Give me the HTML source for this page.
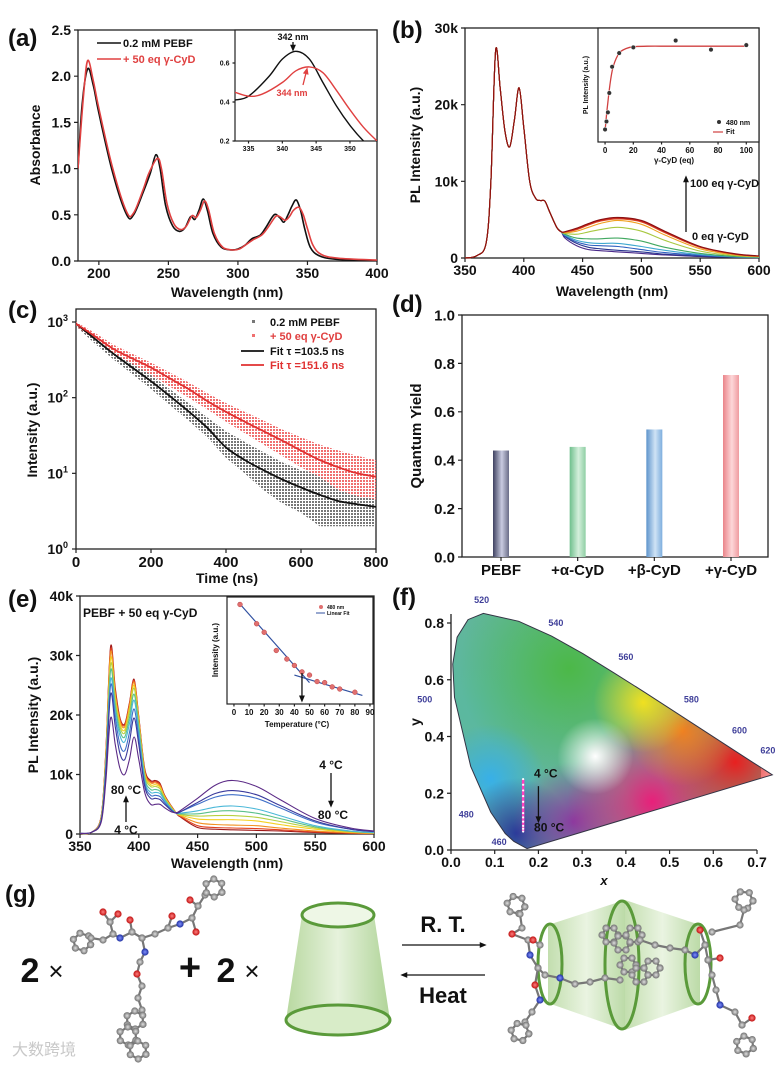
<!DOCTYPE html>
<html><head><meta charset="utf-8">
<style>
html,body{margin:0;padding:0;background:#fff;}
svg{display:block;font-family:"Liberation Sans","Noto Sans CJK SC",sans-serif;}
</style></head>
<body>
<svg id="fig" width="778" height="1066" viewBox="0 0 778 1066" xmlns="http://www.w3.org/2000/svg">
<defs>
<pattern id="dotsGray" width="3" height="3" patternUnits="userSpaceOnUse"><rect width="2" height="2" fill="#777"/></pattern>
<pattern id="dotsRed" width="3" height="3" patternUnits="userSpaceOnUse"><rect width="2" height="2" fill="#f07070"/></pattern>
<linearGradient id="gBar0" x1="0" x2="1"><stop offset="0" stop-color="#3e4160"/><stop offset="0.55" stop-color="#c9cbe0"/><stop offset="1" stop-color="#6a6d88"/></linearGradient>
<linearGradient id="gBar1" x1="0" x2="1"><stop offset="0" stop-color="#6fbf8c"/><stop offset="0.55" stop-color="#d4efdc"/><stop offset="1" stop-color="#8fcfa4"/></linearGradient>
<linearGradient id="gBar2" x1="0" x2="1"><stop offset="0" stop-color="#5e94cc"/><stop offset="0.55" stop-color="#cfe3f5"/><stop offset="1" stop-color="#7eaede"/></linearGradient>
<linearGradient id="gBar3" x1="0" x2="1"><stop offset="0" stop-color="#ea8489"/><stop offset="0.55" stop-color="#fdd7d9"/><stop offset="1" stop-color="#ef9ca0"/></linearGradient>
<radialGradient id="atom"><stop offset="0" stop-color="#e0e0e0"/><stop offset="1" stop-color="#707070"/></radialGradient>
<radialGradient id="atomR"><stop offset="0" stop-color="#ff8080"/><stop offset="1" stop-color="#c01010"/></radialGradient>
<radialGradient id="atomB"><stop offset="0" stop-color="#8090ff"/><stop offset="1" stop-color="#2030a0"/></radialGradient>
<linearGradient id="coneG" x1="0" x2="1"><stop offset="0" stop-color="#b8d8a0"/><stop offset="0.5" stop-color="#e6f2dc"/><stop offset="1" stop-color="#b0d498"/></linearGradient>
<clipPath id="clipA"><rect x="78" y="30" width="299" height="231"/></clipPath>
<clipPath id="clipAi"><rect x="235" y="30" width="142" height="111"/></clipPath>
<clipPath id="clipC"><rect x="76" y="309" width="300" height="240"/></clipPath>
</defs>
</svg>
<script>
const NS='http://www.w3.org/2000/svg';
const svg=document.getElementById('fig');
const defs=svg.querySelector('defs');

/* ---------- DATA ---------- */
const aBlackWl=[185,188,192,196,200,210,220,225,232,237,241,244,248,253,258,262,266,269,272,275,278,282,288,295,300,305,310,316,320,326,330,333,336,339,342,345,348,352,358,370,400];
const aBlackAbs=[1.0,1.7,2.08,1.9,1.6,0.95,0.5,0.5,0.75,0.95,1.15,1.0,0.6,0.38,0.32,0.36,0.48,0.45,0.55,0.67,0.55,0.3,0.15,0.12,0.13,0.17,0.24,0.28,0.36,0.5,0.47,0.42,0.5,0.6,0.66,0.55,0.35,0.15,0.06,0.02,0.0];
const aRedWl=[185,189,192,196,200,210,220,225,232,236,242,245,249,254,259,263,267,270,273,276,279,283,289,296,301,306,311,317,321,327,330,334,337,340,344,347,350,354,360,372,400];
const aRedAbs=[1.0,1.8,2.17,1.95,1.65,1.0,0.53,0.52,0.78,0.95,1.11,1.0,0.62,0.4,0.34,0.38,0.49,0.47,0.55,0.65,0.55,0.3,0.15,0.12,0.13,0.18,0.23,0.28,0.35,0.48,0.48,0.44,0.48,0.55,0.58,0.5,0.35,0.17,0.07,0.03,0.01];
const aiBlackWl=[333,335,338,340,342,344,346,348,350,352,354];
const aiBlackAbs=[0.41,0.43,0.53,0.62,0.66,0.62,0.5,0.38,0.28,0.2,0.14];
const aiRedWl=[333,335,337,340,342,344,346,348,350,352,354];
const aiRedAbs=[0.45,0.43,0.44,0.5,0.56,0.58,0.55,0.46,0.36,0.27,0.2];
const aXTicks=[200,250,300,350,400];
const aYTicks=[0,0.5,1.0,1.5,2.0,2.5];
const aYLabels=['0.0','0.5','1.0','1.5','2.0','2.5'];

const bWl=[350,360,368,372,376,380,384,388,392,396,400,405,410,414,418,422,428,432];
const bMono=[0,0.3,2,10,27,22,16.5,14.5,18,22.2,17,10,7.8,7.5,7.4,6,4,3.4];
const bTailWl=[435,445,455,465,480,500,520,550,580,600];
const bTail0=[2.6,1.6,1.1,0.95,0.8,0.6,0.4,0.2,0.1,0.05];
const bTail1=[2.8,1.9,1.4,1.2,1.0,0.8,0.5,0.25,0.1,0.05];
const bTail2=[2.9,2.1,1.7,1.6,1.5,1.1,0.7,0.35,0.15,0.07];
const bTail3=[3.0,2.3,2.0,1.9,1.9,1.5,1.0,0.45,0.15,0.08];
const bTail4=[3.1,2.6,2.5,2.5,2.6,2.2,1.4,0.6,0.2,0.1];
const bTail5=[3.2,3.1,3.4,3.7,4.0,3.5,2.3,0.9,0.3,0.15];
const bTail6=[3.3,3.5,4.0,4.5,4.9,4.4,3.0,1.2,0.4,0.2];
const bTail7=[3.4,3.7,4.3,4.8,5.1,4.7,3.3,1.4,0.5,0.25];
const bTail8=[3.4,3.8,4.4,4.9,5.2,4.8,3.4,1.45,0.5,0.25];
const bTail9=[3.45,3.9,4.5,5.0,5.3,4.9,3.5,1.5,0.55,0.28];
const bColors=['#4a2a8a','#2a3590','#3060c0','#40a8d0','#40a860','#a8c840','#f0a020','#e05020','#c02020','#8a1010'];
const biEq=[0,1,2,3,5,10,20,50,75,100];
const biInt=[0.11,0.18,0.26,0.43,0.66,0.78,0.83,0.89,0.81,0.85];
const biFitEq=[0,2,4,6,10,15,20,30,50,100];
const biFitInt=[0.1,0.35,0.55,0.67,0.78,0.82,0.835,0.84,0.84,0.84];

const cTime=[0,50,100,150,200,250,300,350,400,450,500,550,600,650,700,750,800];
const cGrayHi=[1000,680,440,300,200,130,85,55,36,26,19,14,11,10,9,8.5,8];
const cGrayLo=[880,520,320,205,130,80,50,30,16,10,6,4,3,2,2,2,2];
const cBlackFit=[950,600,380,250,165,105,66,40,22,15,11,8.3,6.5,5.2,4.3,3.9,3.6];
const cRedHi=[1000,720,500,380,290,215,160,115,85,65,50,38,30,24,20,17,15];
const cRedLo=[880,590,390,280,200,140,100,70,48,34,24,17,12,9,6,5,4.5];
const cRedFit=[950,650,440,330,250,180,130,90,65,48,36,27,20,15,12,10,9];

const dCats=['PEBF','+α-CyD','+β-CyD','+γ-CyD'];
const dVals=[0.44,0.455,0.527,0.752];

const eWl=[350,360,368,372,376,380,384,388,392,396,400,405,410,414,418,422,428,432,435,450,465,480,500,520,550,580,600];
const eC0=[0.1,0.3,2,9,19.5,15,11,10,12.5,16.3,12.5,7,5,5,5,4.4,3.7,3.6,3.9,6,8.2,9.0,8.0,5.8,2.6,1.0,0.5];
const eC1=[0.1,0.3,2.2,10,23.5,18,13.5,12.5,15.5,19.5,15,8,6,6,5.8,5,3.9,3.5,3.7,5.3,6.8,7.3,6.6,4.8,2.2,0.8,0.4];
const eC2=[0.1,0.3,2.3,11,25,19.5,15,14,17,21,16,8.5,6.5,6.5,6.3,5.3,4,3.5,3.7,5,6.2,6.6,6.0,4.4,2.0,0.8,0.4];
const eC3=[0.1,0.3,2.4,11.5,26,20.5,16.5,15.5,18.5,22.5,17,9,7,7,6.8,5.6,4.1,3.5,3.5,3.9,4.5,4.7,4.2,3.1,1.4,0.5,0.25];
const eC4=[0.1,0.3,2.5,12,27.5,21.5,17.3,16.3,19.5,23.5,18,9.5,7.5,7.5,7.2,5.8,4.2,3.5,3.4,3.4,3.8,3.9,3.5,2.6,1.2,0.45,0.2];
const eC5=[0.1,0.3,2.6,12.5,28.5,22.5,18,17,20.5,24.5,18.5,10,8,8,7.6,6,4.3,3.5,3.3,3.0,3.1,3.1,2.8,2.1,1.0,0.4,0.2];
const eC6=[0.1,0.3,2.7,13,29.5,23,18.5,17.5,21,25,19,10.3,8.3,8.3,7.9,6.2,4.4,3.5,3.2,2.5,2.4,2.4,2.2,1.6,0.8,0.3,0.15];
const eC7=[0.1,0.3,2.8,13.5,30.5,23.5,19,18,21.5,25.5,19.3,10.5,8.6,8.6,8.1,6.3,4.5,3.5,3.1,1.9,1.6,1.5,1.4,1.0,0.5,0.2,0.1];
const eC8=[0.1,0.3,2.9,14,31,24,19.3,18.3,21.8,25.8,19.5,10.7,8.8,8.8,8.3,6.4,4.5,3.5,3.0,1.4,1.1,1.0,0.9,0.7,0.35,0.15,0.08];
const eC9=[0.1,0.3,3,14,31.5,24.5,19.5,18.5,22,26,19.7,11,9,9,8.5,6.5,4.6,3.5,2.9,1.1,0.8,0.7,0.6,0.5,0.25,0.1,0.05];
const eColors=['#5b2a86','#3a3a9c','#3f6fc8','#4bb8d8','#5cc08a','#b8d040','#f5d020','#f29020','#e04020','#a01818'];
const eiTemp=[4,15,20,28,35,40,45,50,55,60,65,70,80];
const eiInt=[0.93,0.75,0.67,0.5,0.42,0.36,0.30,0.27,0.21,0.2,0.16,0.14,0.11];
const eiFit1T=[3,50];
const eiFit1I=[0.95,0.2];
const eiFit2T=[40,85];
const eiFit2I=[0.27,0.08];

const fLocusX=[0.144,0.124,0.091,0.045,0.008,0.004,0.014,0.039,0.074,0.155,0.230,0.302,0.373,0.444,0.512,0.575,0.627,0.691,0.719,0.735,0.174];
const fLocusY=[0.030,0.058,0.133,0.295,0.538,0.655,0.750,0.812,0.834,0.806,0.754,0.692,0.624,0.555,0.487,0.424,0.372,0.308,0.281,0.265,0.005];
const fPtsX=[0.165,0.165,0.165,0.165,0.165,0.165,0.165,0.165,0.165,0.165,0.165,0.165];
const fPtsY=[0.25,0.23,0.21,0.19,0.17,0.15,0.13,0.115,0.10,0.085,0.075,0.065];

/* ---------- HELPERS ---------- */
function mk(tag,attrs,parent){const e=document.createElementNS(NS,tag);for(const k in attrs)e.setAttribute(k,attrs[k]);(parent||svg).appendChild(e);return e;}
function lin(d0,d1,r0,r1){return v=>r0+(v-d0)*(r1-r0)/(d1-d0);}
function smooth(p){let d='M'+p[0][0].toFixed(1)+','+p[0][1].toFixed(1);for(let i=0;i<p.length-1;i++){const p0=p[i-1]||p[i],p1=p[i],p2=p[i+1],p3=p[i+2]||p2;const c1x=p1[0]+(p2[0]-p0[0])/6,c1y=p1[1]+(p2[1]-p0[1])/6,c2x=p2[0]-(p3[0]-p1[0])/6,c2y=p2[1]-(p3[1]-p1[1])/6;d+=`C${c1x.toFixed(1)},${c1y.toFixed(1)} ${c2x.toFixed(1)},${c2y.toFixed(1)} ${p2[0].toFixed(1)},${p2[1].toFixed(1)}`;}return d;}
function txt(s,x,y,size,o){o=o||{};const t=mk('text',{x:x,y:y,'font-size':size,'font-weight':o.w||'bold','text-anchor':o.a||'middle',fill:o.c||'#111'},o.p);t.textContent=s;if(o.rot)t.setAttribute('transform',`rotate(-90 ${x} ${y})`);if(o.it)t.setAttribute('font-style','italic');return t;}
function frame(name,x0,y0,x1,y1,xs,xTicks,xLabels,ys,yTicks,yLabels,fs,tl,box){
  if(box!==false){const r=mk('rect',{x:x0,y:y0,width:x1-x0,height:y1-y0,fill:'none',stroke:'#222','stroke-width':1.3});
  
  }
  let d='';
  xTicks.forEach(v=>{d+=`M${xs(v)},${y1}v${tl}`;});
  yTicks.forEach(v=>{d+=`M${x0},${ys(v)}h${-tl}`;});
  const tp=mk('path',{d:d,stroke:'#222','stroke-width':1.2,fill:'none'});
  
  
  xTicks.forEach((v,i)=>{const t=txt(xLabels[i],xs(v),y1+fs+3,fs);
    
    });
  yTicks.forEach((v,i)=>{if(yLabels[i]===null)return;const t=txt(yLabels[i],x0-tl-3,ys(v)+fs*0.36,fs,{a:'end'});
    
    });
}
function line(xsArr,ysArr,sx,sy,color,w,name,clip){const pts=xsArr.map((v,i)=>[sx(v),sy(ysArr[i])]);const p=mk('path',{d:smooth(pts),fill:'none',stroke:color,'stroke-width':w});if(clip)p.setAttribute('clip-path',clip);
  
  
  return p;}
function panelLabel(s,x,y){const t=txt(s,x,y,24,{a:'start'});
  
  }
function arrow(x1,y1,x2,y2,color,name){const a=Math.atan2(y2-y1,x2-x1),h=5;const d=`M${x1},${y1}L${x2},${y2}M${x2-h*Math.cos(a-0.4)},${y2-h*Math.sin(a-0.4)}L${x2},${y2}L${x2-h*Math.cos(a+0.4)},${y2-h*Math.sin(a+0.4)}Z`;const p=mk('path',{d:d,stroke:color,fill:color,'stroke-width':1.3});
  
  }

/* ---------- (a) ---------- */
panelLabel('(a)',8,46);
const ax=lin(185,400,78,377), ay=lin(0,2.5,261,30);
frame('panel-a',78,30,377,261,ax,aXTicks,aXTicks.map(String),ay,aYTicks,aYLabels,14,4);
line(aBlackWl,aBlackAbs,ax,ay,'#111',1.6,'absorbance-pebf-line','url(#clipA)');
line(aRedWl,aRedAbs,ax,ay,'#e04040',1.6,'absorbance-cyd-line','url(#clipA)');
{let t=txt('Absorbance',40,145,14,{rot:true});
 t=txt('Wavelength (nm)',227,297,14);
 let l=mk('path',{d:'M97,43h24',stroke:'#111','stroke-width':1.6});
 t=txt('0.2 mM PEBF',123,47,11,{a:'start'});
 l=mk('path',{d:'M97,59h24',stroke:'#e04040','stroke-width':1.6});
 t=txt('+ 50 eq γ-CyD',123,63,11,{a:'start',c:'#e04040'});}
{const r=mk('rect',{x:235,y:30,width:142,height:111,fill:'#fff',stroke:'#222','stroke-width':1.2});}
const iax=lin(333,354,235,377), iay=lin(0.2,0.6,141,63);
frame('inset-a',235,30,377,141,iax,[335,340,345,350],['335','340','345','350'],iay,[0.2,0.4,0.6],['0.2','0.4','0.6'],7,2.5,false);
line(aiBlackWl,aiBlackAbs,iax,iay,'#111',1.4,'inset-a-pebf-line','url(#clipAi)');
line(aiRedWl,aiRedAbs,iax,iay,'#e04040',1.4,'inset-a-cyd-line','url(#clipAi)');
{let t=txt('342 nm',293,40,9);
 arrow(293,42,293,50,'#111','peak-342-arrow');
 t=txt('344 nm',292,96,9,{c:'#e04040'});
 arrow(303,85,307,69,'#e04040','peak-344-arrow');}

/* ---------- (b) ---------- */
panelLabel('(b)',392,38);
const bx=lin(350,600,465,759), by=lin(0,30,258,28);
frame('panel-b',465,28,759,258,bx,[350,400,450,500,550,600],['350','400','450','500','550','600'],by,[0,10,20,30],['0','10k','20k','30k'],14,4);
[bTail0,bTail1,bTail2,bTail3,bTail4,bTail5,bTail6,bTail7,bTail8,bTail9].forEach((tail,i)=>{
  line(bWl.concat(bTailWl),bMono.concat(tail),bx,by,bColors[i],1.1,'pl-spectrum-'+i+'eq-series');});
{let t=txt('PL Intensity (a.u.)',420,145,14,{rot:true});
 t=txt('Wavelength (nm)',612,296,14);
 arrow(686,232,686,177,'#111','titration-arrow');
 t=txt('100 eq γ-CyD',690,187,11,{a:'start'});
 t=txt('0 eq γ-CyD',692,240,11,{a:'start'});}
{const r=mk('rect',{x:598,y:28,width:161,height:114,fill:'#fff',stroke:'#222','stroke-width':1.2});}
const bix=lin(-5,109,598,759), biy=lin(0,1,142,28);
frame('inset-b',598,28,759,142,bix,[0,20,40,60,80,100],['0','20','40','60','80','100'],biy,[],[],8,2.5,false);
line(biFitEq,biFitInt,bix,biy,'#d04040',1.3,'inset-b-fit-line');
biEq.forEach((v,i)=>{const c=mk('circle',{cx:bix(v),cy:biy(biInt[i]),r:2.3,fill:'#333',stroke:'#fff','stroke-width':0.5});
  
  });
{let t=txt('PL Intensity (a.u.)',588,85,7,{rot:true});
 t=txt('γ-CyD (eq)',674,163,8);
 const c=mk('circle',{cx:719,cy:122,r:2,fill:'#333'});
 t=txt('480 nm',726,125,7,{a:'start'});
 const l=mk('path',{d:'M713,132h10',stroke:'#d04040','stroke-width':1.2});
 t=txt('Fit',726,134,7,{a:'start'});}

/* ---------- (c) ---------- */
panelLabel('(c)',8,318);
const cx=lin(0,800,76,376), cy=v=>549-Math.log10(v)/3*(549-322);
frame('panel-c',76,309,376,549,cx,[0,200,400,600,800],['0','200','400','600','800'],cy,[],[],15,4);
[1,10,100,1000].forEach((v,i)=>{const t=mk('text',{x:68,y:cy(v)+5,'font-size':14,'font-weight':'bold','text-anchor':'end',fill:'#111'});
  t.innerHTML='10<tspan font-size="9" dy="-6">'+i+'</tspan>';
  
  
  const tk=mk('path',{d:`M76,${cy(v)}h-4`,stroke:'#222','stroke-width':1.2});
  
  });
function band(hi,lo,fill,name){const up=cTime.map((t,i)=>[cx(t),cy(hi[i])]);const dn=cTime.map((t,i)=>[cx(t),cy(lo[i])]).reverse();
  const d='M'+up.map(p=>p.join(',')).join('L')+'L'+dn.map(p=>p.join(',')).join('L')+'Z';
  const p=mk('path',{d:d,fill:fill,'clip-path':'url(#clipC)'});
  
  }
band(cGrayHi,cGrayLo,'url(#dotsGray)','decay-pebf-scatter');
band(cRedHi,cRedLo,'url(#dotsRed)','decay-cyd-scatter');
line(cTime,cBlackFit,cx,cy,'#111',1.8,'decay-pebf-fit-line','url(#clipC)');
line(cTime,cRedFit,cx,cy,'#e03030',1.8,'decay-cyd-fit-line','url(#clipC)');
{let t=txt('Intensity (a.u.)',37,430,14,{rot:true});
 t=txt('Time (ns)',227,583,14);
 let m=mk('rect',{x:252,y:320,width:3,height:3,fill:'#777'});
 t=txt('0.2 mM PEBF',270,326,11,{a:'start'});
 m=mk('rect',{x:252,y:334,width:3,height:3,fill:'#f07070'});
 t=txt('+ 50 eq γ-CyD',270,340,11,{a:'start',c:'#e04040'});
 m=mk('path',{d:'M241,351h23',stroke:'#111','stroke-width':1.8});
 t=txt('Fit   τ =103.5 ns',270,355,11,{a:'start'});
 m=mk('path',{d:'M241,365h23',stroke:'#e03030','stroke-width':1.8});
 t=txt('Fit   τ =151.6 ns',270,369,11,{a:'start',c:'#e03030'});}

/* ---------- (d) ---------- */
panelLabel('(d)',392,312);
const dy=lin(0,1,557,315);
const dX=lin(0,3,501,731);
frame('panel-d',462,315,768,557,i=>dX(i),[0,1,2,3],dCats,dy,[0,0.2,0.4,0.6,0.8,1.0],['0.0','0.2','0.4','0.6','0.8','1.0'],15,4);
dVals.forEach((v,i)=>{const r=mk('rect',{x:dX(i)-8,y:dy(v),width:16,height:dy(0)-dy(v),fill:`url(#gBar${i})`});
  
  });
{const t=txt('Quantum Yield',421,436,15,{rot:true});}

/* ---------- (e) ---------- */
panelLabel('(e)',8,607);
const ex=lin(350,600,80,374), ey=lin(0,40,834,596);
frame('panel-e',80,596,374,834,ex,[350,400,450,500,550,600],['350','400','450','500','550','600'],ey,[0,10,20,30,40],['0','10k','20k','30k','40k'],14,4);
const eSeries=[eC0,eC1,eC2,eC3,eC4,eC5,eC6,eC7,eC8,eC9];
for(let i=9;i>=0;i--){line(eWl,eSeries[i],ex,ey,eColors[i],1.1,'pl-temp-series-'+i);}
{let t=txt('PEBF + 50 eq γ-CyD',83,617,12,{a:'start'});
 t=txt('PL Intensity (a.u.)',38,715,14,{rot:true});
 t=txt('Wavelength (nm)',227,868,14);
 t=txt('80 °C',126,794,12);
 arrow(126,822,126,797,'#111','monomer-arrow');
 t=txt('4 °C',126,834,12);
 t=txt('4 °C',331,769,12);
 arrow(331,773,331,806,'#111','excimer-arrow');
 t=txt('80 °C',333,819,12);}
{const r=mk('rect',{x:227,y:597,width:146,height:107,fill:'#fff',stroke:'#222','stroke-width':1.2});}
const iex=lin(-4.6,92,227,373), iey=lin(0,1,704,597);
frame('inset-e',227,597,373,704,iex,[0,10,20,30,40,50,60,70,80,90],['0','10','20','30','40','50','60','70','80','90'],iey,[],[],8,2.5,false);
line(eiFit1T,eiFit1I,iex,iey,'#3050a0',1.2,'inset-e-fit-line-1');
line(eiFit2T,eiFit2I,iex,iey,'#3050a0',1.2,'inset-e-fit-line-2');
eiTemp.forEach((v,i)=>{const c=mk('circle',{cx:iex(v),cy:iey(eiInt[i]),r:2.4,fill:'#e07070',stroke:'#c04040','stroke-width':0.5});
  
  });
arrow(iex(45),iey(0.29),iex(45),iey(0.03),'#111','transition-arrow');
{let t=txt('Intensity (a.u.)',218,650,8,{rot:true});
 t=txt('Temperature (°C)',297,727,8);
 let c=mk('circle',{cx:321,cy:607,r:2,fill:'#e07070'});
 t=txt('480 nm',327,609,5,{a:'start'});
 c=mk('path',{d:'M316,613h9',stroke:'#3050a0','stroke-width':1});
 t=txt('Linear Fit',327,615,5,{a:'start'});}

/* ---------- (f) ---------- */
panelLabel('(f)',392,605);
const fx=lin(0,0.7,451,757), fy=lin(0,0.8,850,623);
frame('panel-f',451,614,757,850,fx,[0,0.1,0.2,0.3,0.4,0.5,0.6,0.7],['0.0','0.1','0.2','0.3','0.4','0.5','0.6','0.7'],fy,[0,0.2,0.4,0.6,0.8],['0.0','0.2','0.4','0.6','0.8'],14,4,false);
{const ax1=mk('path',{d:'M451,614V850H757',fill:'none',stroke:'#222','stroke-width':1.3});}
const locusPts=fLocusX.map((v,i)=>fx(v)+','+fy(fLocusY[i])).join(' ');
{const cp=mk('clipPath',{id:'clipF'},defs);mk('polygon',{points:locusPts},cp);}
const blobs=[['#5ab8a0',0.06,0.5,110],['#4cb848',0.27,0.64,110],['#38b0e8',0.09,0.25,55],['#2a3a9a',0.15,0.06,55],['#8a3aa0',0.28,0.1,60],['#e8207a',0.46,0.17,85],['#e82020',0.65,0.31,75],['#f08020',0.53,0.42,55],['#f0e020',0.44,0.52,50],['#ffffff',0.33,0.33,38]];
{const g=mk('g',{'clip-path':'url(#clipF)'});
 mk('rect',{x:451,y:600,width:310,height:255,fill:'#62b69a'},g);
 blobs.forEach((b,i)=>{const rg=mk('radialGradient',{id:'blob'+i},defs);mk('stop',{offset:0,'stop-color':b[0],'stop-opacity':1},rg);mk('stop',{offset:1,'stop-color':b[0],'stop-opacity':0},rg);
  mk('circle',{cx:fx(b[1]),cy:fy(b[2]),r:b[3],fill:`url(#blob${i})`},g);});}
{const p=mk('polygon',{points:locusPts,fill:'none',stroke:'#334','stroke-width':1});}
[['520',0.07,0.87],['540',0.24,0.79],['560',0.4,0.67],['580',0.55,0.52],['600',0.66,0.41],['620',0.725,0.34],['500',-0.06,0.52],['480',0.035,0.115],['460',0.11,0.018]].forEach(l=>{
  const t=txt(l[0],fx(l[1]),fy(l[2]),9,{c:'#40409a'});
  
  });
{const l=mk('path',{d:`M${fx(fPtsX[0])},${fy(fPtsY[0])}V${fy(fPtsY[fPtsY.length-1])}`,stroke:'#ff40c0','stroke-width':2.5});}
fPtsX.forEach((v,i)=>{const c=mk('circle',{cx:fx(v),cy:fy(fPtsY[i]),r:1.1,fill:'#fff'});
  
  });
arrow(fx(0.2),fy(0.225),fx(0.2),fy(0.1),'#111','cie-arrow');
{let t=txt('4 °C',fx(0.19),fy(0.255),12,{a:'start'});
 t=txt('80 °C',fx(0.19),fy(0.065),12,{a:'start'});
 t=txt('y',420,722,14,{rot:true});
 t=txt('x',604,885,13,{it:true});}

/* ---------- (g) scheme ---------- */
panelLabel('(g)',5,902);
function atoms(list,name){const g=mk('g',{});
  list.forEach(ch=>{mk('polyline',{points:ch.map(p=>p[0]+','+p[1]).join(' '),fill:'none',stroke:'#777','stroke-width':2.2},g);});
  list.forEach(ch=>ch.forEach(p=>{mk('circle',{cx:p[0],cy:p[1],r:3.6,fill:p[2]==='r'?'url(#atomR)':p[2]==='b'?'url(#atomB)':'url(#atom)'},g);}));}
function ring(cx,cy,r,rot){const a=[];for(let k=0;k<=6;k++){const t=rot+k*Math.PI/3;a.push([cx+r*Math.cos(t),cy+r*Math.sin(t)]);}return a;}
atoms([
 ring(82,942,9,0.3),
 [[91,938],[103,940],[113,934],[120,938,'b'],[132,932],[142,938],[155,934],[168,928],[180,924,'b'],[192,918],[198,906],[205,895]],
 [[113,934],[110,922],[103,912,'r']],[[110,922],[118,914,'r']],
 [[132,932],[130,920,'r']],[[168,928],[172,916,'r']],
 [[192,918],[196,932,'r']],[[198,906],[190,900,'r']],
 ring(214,888,9,0.5),
 [[142,938],[145,952,'b'],[140,962],[137,974,'r'],[142,986],[138,998],[142,1010]],
 ring(135,1020,9,0.5),ring(128,1036,9,0.5),ring(138,1050,9,0.5)
],'pebf-molecule');
{let t=txt('2',30,982,34,{});
 t=txt('×',56,980,26,{w:'normal'});
 t=txt('+',190,980,38,{});
 t=txt('2',226,982,34,{});
 t=txt('×',252,980,26,{w:'normal'});}
{const g=mk('g',{});
 mk('path',{d:'M302,915L286,1020A52,15 0 0 0 390,1020L374,915Z',fill:'url(#coneG)'},g);
 mk('ellipse',{cx:338,cy:1020,rx:52,ry:15,fill:'#d8ecc8',stroke:'#5a9a3a','stroke-width':3},g);
 mk('ellipse',{cx:338,cy:915,rx:36,ry:12,fill:'#eef7e6',stroke:'#5a9a3a','stroke-width':3},g);}
arrow(402,945,485,945,'#111','forward-arrow');
arrow(485,975,402,975,'#111','reverse-arrow');
{let t=txt('R. T.',443,932,22,{});
 t=txt('Heat',443,1003,22,{});}
{const g=mk('g',{});
 mk('path',{d:'M548,925L625,900L625,1030L548,1003Z',fill:'url(#coneG)',opacity:0.85},g);
 mk('path',{d:'M625,900L700,925L700,1003L625,1030Z',fill:'url(#coneG)',opacity:0.85},g);
 mk('ellipse',{cx:550,cy:964,rx:12,ry:40,fill:'none',stroke:'#5a9a3a','stroke-width':3},g);
 mk('ellipse',{cx:622,cy:965,rx:17,ry:64,fill:'none',stroke:'#5a9a3a','stroke-width':3},g);
 mk('ellipse',{cx:698,cy:964,rx:13,ry:40,fill:'none',stroke:'#5a9a3a','stroke-width':3},g);}
atoms([
 ring(516,905,9,0.2),[[520,914],[522,928],[512,934,'r'],[528,940],[530,955,'b'],[538,968],[545,975],[560,978,'b'],[575,984],[590,982],[605,978],[620,980]],
 ring(628,965,8,0),ring(640,975,8,0),ring(652,968,8,0),
 [[538,968],[535,985,'r'],[540,1000,'b'],[532,1012],[525,1022]],ring(520,1032,9,0.2),
 ring(610,935,8,0),ring(622,943,8,0),ring(634,935,8,0),
 [[640,940],[655,945],[670,948],[685,950],[695,955,'b'],[705,945],[708,960],[712,975],[716,990],[720,1005,'b'],[735,1012],[742,1025]],
 [[705,945],[700,930,'r']],[[708,960],[720,958,'r']],[[742,1025],[752,1018,'r']],
 ring(745,1045,9,0.4),ring(744,900,9,0.1),[[744,910],[740,925],[712,932]],[[540,945],[533,940,'r']]
],'inclusion-complex-molecules');
{const t=txt('大数跨境',12,1055,16,{a:'start',c:'#c8c8c8',w:'normal'});}
</script>
</body></html>
